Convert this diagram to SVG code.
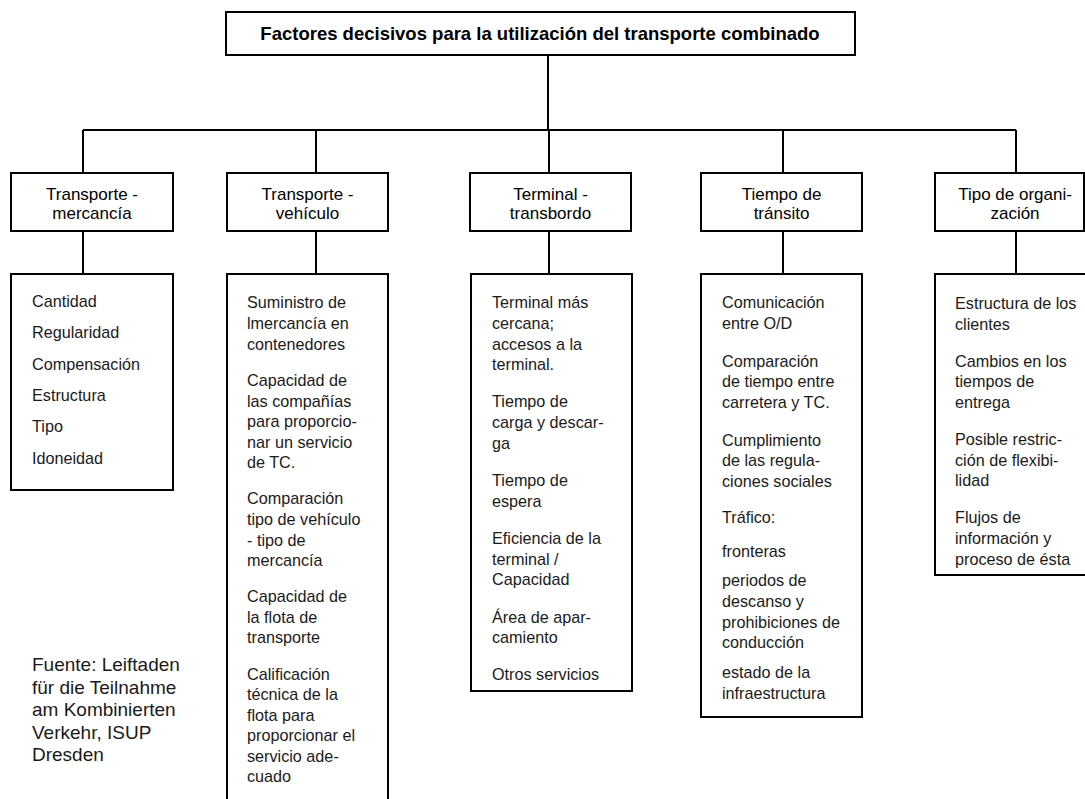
<svg xmlns="http://www.w3.org/2000/svg" width="1085" height="799" viewBox="0 0 1085 799">
<style>
  .box { fill: #fff; stroke: #000; stroke-width: 2; }
  .con { stroke: #000; stroke-width: 2; fill: none; }
  .title { font-family: "Liberation Sans", Arial, sans-serif; font-weight: bold; font-size: 18.5px; fill: #000; text-anchor: middle; }
  .head { font-family: "Liberation Sans", Arial, sans-serif; font-size: 17px; fill: #000; text-anchor: middle; }
  .item { font-family: "Liberation Sans", Arial, sans-serif; font-size: 16.2px; fill: #1a1a1a; }
  .src { font-family: "Liberation Sans", Arial, sans-serif; font-size: 19px; fill: #1a1a1a; }
</style>
<rect width="1085" height="799" fill="#fff"/>

<g id="connectors">
  <path class="con" d="M548 55 V130 M83 130 H1016 M83 130 V173 M316 130 V173 M549 130 V173 M783 130 V173 M1016 130 V173"/>
  <path class="con" d="M83 231 V274 M316 231 V274 M549 231 V274 M783 231 V274 M1016 231 V274"/>
</g>

<g id="title">
  <rect class="box" x="226" y="12" width="629" height="43"/>
  <text class="title" x="540" y="40">Factores decisivos para la utilización del transporte combinado</text>
</g>

<g id="h1">
  <rect class="box" x="11" y="173" width="162" height="58"/>
  <text class="head" x="92" y="200">Transporte -</text>
  <text class="head" x="92" y="219">mercancía</text>
</g>
<g id="h2">
  <rect class="box" x="227" y="173" width="161" height="58"/>
  <text class="head" x="307.5" y="200">Transporte -</text>
  <text class="head" x="307.5" y="219">vehículo</text>
</g>
<g id="h3">
  <rect class="box" x="470" y="173" width="161" height="58"/>
  <text class="head" x="550.5" y="200">Terminal -</text>
  <text class="head" x="550.5" y="219">transbordo</text>
</g>
<g id="h4">
  <rect class="box" x="701" y="173" width="161" height="58"/>
  <text class="head" x="781.5" y="200">Tiempo de</text>
  <text class="head" x="781.5" y="219">tránsito</text>
</g>
<g id="h5">
  <rect class="box" x="935" y="173" width="149" height="58"/>
  <text class="head" x="1015" y="200">Tipo de organi-</text>
  <text class="head" x="1015" y="219">zación</text>
</g>

<g id="d1">
  <rect class="box" x="11" y="274" width="162" height="216"/>
  <text class="item" x="32" y="307">Cantidad</text>
  <text class="item" x="32" y="338">Regularidad</text>
  <text class="item" x="32" y="369.5">Compensación</text>
  <text class="item" x="32" y="401">Estructura</text>
  <text class="item" x="32" y="432">Tipo</text>
  <text class="item" x="32" y="463.5">Idoneidad</text>
</g>

<g id="d2">
  <rect class="box" x="227" y="274" width="161" height="540"/>
  <text class="item" x="247" y="308">Suministro de</text>
  <text class="item" x="247" y="329">lmercancía en</text>
  <text class="item" x="247" y="350">contenedores</text>
  <text class="item" x="247" y="386">Capacidad de</text>
  <text class="item" x="247" y="406.5">las compañías</text>
  <text class="item" x="247" y="427">para proporcio-</text>
  <text class="item" x="247" y="447.5">nar un servicio</text>
  <text class="item" x="247" y="468">de TC.</text>
  <text class="item" x="247" y="504">Comparación</text>
  <text class="item" x="247" y="525">tipo de vehículo</text>
  <text class="item" x="247" y="545.5">- tipo de</text>
  <text class="item" x="247" y="566">mercancía</text>
  <text class="item" x="247" y="602">Capacidad de</text>
  <text class="item" x="247" y="622.5">la flota de</text>
  <text class="item" x="247" y="643">transporte</text>
  <text class="item" x="247" y="679.5">Calificación</text>
  <text class="item" x="247" y="700">técnica de la</text>
  <text class="item" x="247" y="720.5">flota para</text>
  <text class="item" x="247" y="741">proporcionar el</text>
  <text class="item" x="247" y="761.5">servicio ade-</text>
  <text class="item" x="247" y="782">cuado</text>
</g>

<g id="d3">
  <rect class="box" x="471" y="274" width="161" height="417"/>
  <text class="item" x="492" y="308">Terminal más</text>
  <text class="item" x="492" y="329">cercana;</text>
  <text class="item" x="492" y="349.5">accesos a la</text>
  <text class="item" x="492" y="370">terminal.</text>
  <text class="item" x="492" y="407">Tiempo de</text>
  <text class="item" x="492" y="428">carga y descar-</text>
  <text class="item" x="492" y="448.5">ga</text>
  <text class="item" x="492" y="486">Tiempo de</text>
  <text class="item" x="492" y="506.5">espera</text>
  <text class="item" x="492" y="544">Eficiencia de la</text>
  <text class="item" x="492" y="564.5">terminal /</text>
  <text class="item" x="492" y="585">Capacidad</text>
  <text class="item" x="492" y="622.5">Área de apar-</text>
  <text class="item" x="492" y="643">camiento</text>
  <text class="item" x="492" y="679.5">Otros servicios</text>
</g>

<g id="d4">
  <rect class="box" x="701" y="274" width="161" height="443"/>
  <text class="item" x="722" y="308">Comunicación</text>
  <text class="item" x="722" y="329">entre O/D</text>
  <text class="item" x="722" y="366.5">Comparación</text>
  <text class="item" x="722" y="387">de tiempo entre</text>
  <text class="item" x="722" y="407.5">carretera y TC.</text>
  <text class="item" x="722" y="445.5">Cumplimiento</text>
  <text class="item" x="722" y="466">de las regula-</text>
  <text class="item" x="722" y="486.5">ciones sociales</text>
  <text class="item" x="722" y="523">Tráfico:</text>
  <text class="item" x="722" y="557">fronteras</text>
  <text class="item" x="722" y="586">periodos de</text>
  <text class="item" x="722" y="607">descanso y</text>
  <text class="item" x="722" y="627.5">prohibiciones de</text>
  <text class="item" x="722" y="648">conducción</text>
  <text class="item" x="722" y="678">estado de la</text>
  <text class="item" x="722" y="699">infraestructura</text>
</g>

<g id="d5">
  <rect class="box" x="935" y="274" width="162" height="301"/>
  <text class="item" x="955" y="309">Estructura de los</text>
  <text class="item" x="955" y="330">clientes</text>
  <text class="item" x="955" y="366.5">Cambios en los</text>
  <text class="item" x="955" y="387">tiempos de</text>
  <text class="item" x="955" y="407.5">entrega</text>
  <text class="item" x="955" y="445">Posible restric-</text>
  <text class="item" x="955" y="466">ción de  flexibi-</text>
  <text class="item" x="955" y="486">lidad</text>
  <text class="item" x="955" y="523">Flujos de</text>
  <text class="item" x="955" y="544">información y</text>
  <text class="item" x="955" y="565">proceso de ésta</text>
</g>

<g id="source">
  <text class="src" x="32" y="671">Fuente: Leiftaden</text>
  <text class="src" x="32" y="693.5">für die Teilnahme</text>
  <text class="src" x="32" y="716">am Kombinierten</text>
  <text class="src" x="32" y="738.5">Verkehr, ISUP</text>
  <text class="src" x="32" y="761">Dresden</text>
</g>
</svg>
